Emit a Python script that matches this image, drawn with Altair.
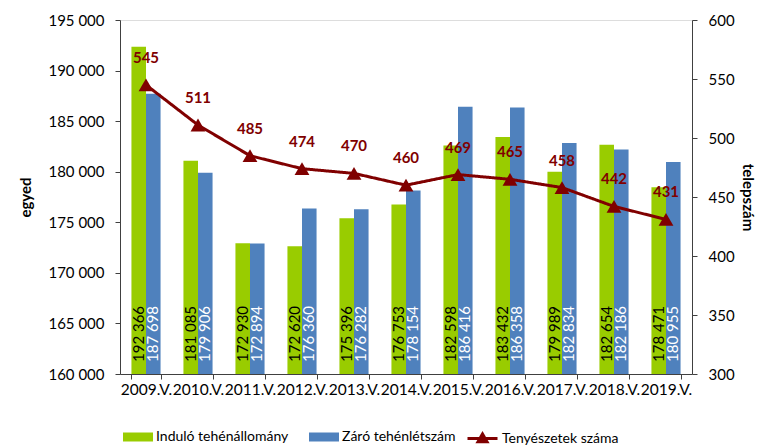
import altair as alt
import pandas as pd

years = ["2009.V.", "2010.V.", "2011.V.", "2012.V.", "2013.V.", "2014.V.",
         "2015.V.", "2016.V.", "2017.V.", "2018.V.", "2019.V."]
series_names = ["Induló tehénállomány", "Záró tehénlétszám"]
indulo = [192366, 181085, 172930, 172620, 175396, 176753, 182598, 183432, 179989, 182654, 178471]
zaro = [187698, 179906, 172894, 176360, 176282, 178154, 186416, 186358, 182834, 182186, 180955]
tenyeszetek = [545, 511, 485, 474, 470, 460, 469, 465, 458, 442, 431]
line_name = "Tenyészetek száma"

FONT = "Lato"
RED = "#800000"
GREEN = "#99CC00"
BLUE = "#4F81BD"
AXIS_COLOR = "#404040"

rows = []
for i, y in enumerate(years):
    for s, vals in zip(series_names, [indulo, zaro]):
        v = vals[i]
        rows.append({"year": y, "series": s, "value": v,
                     "label": f"{v:,}".replace(",", " "), "base": 160000})
bars_df = pd.DataFrame(rows)
line_df = pd.DataFrame({"year": years, "count": tenyeszetek, "lname": line_name})

x_enc = alt.X("year:N", sort=years, title=None,
              scale=alt.Scale(paddingInner=0.44, paddingOuter=0.22),
              axis=alt.Axis(tickBand="extent", labelAngle=0, labelFont=FONT,
                            labelFontSize=15.5, labelColor="black", labelPadding=3,
                            tickSize=5, domainColor=AXIS_COLOR, tickColor=AXIS_COLOR,
                            labelOverlap=False, labelFlush=False))
xoff = alt.XOffset("series:N", sort=series_names, scale=alt.Scale(paddingInner=0))

left_scale = alt.Scale(domain=[160000, 195000], zero=False)
left_axis = alt.Axis(orient="left", values=list(range(160000, 195001, 5000)),
                     grid=False, tickSize=5, labelPadding=11, labelFont=FONT,
                     labelFontSize=15, labelColor="black",
                     labelExpr="replace(datum.label, ',', ' ')",
                     title="egyed", titleFont=FONT, titleFontSize=15,
                     titleFontWeight="bold", titleColor="black", titlePadding=14,
                     domainColor=AXIS_COLOR, tickColor=AXIS_COLOR)

bars = alt.Chart(bars_df).mark_bar(clip=True).encode(
    x=x_enc,
    xOffset=xoff,
    y=alt.Y("value:Q", scale=left_scale, axis=left_axis),
    y2=alt.Y2("base:Q"),
    color=alt.Color("series:N", sort=series_names,
                    scale=alt.Scale(domain=series_names, range=[GREEN, BLUE]),
                    legend=alt.Legend(orient="none", legendX=3, legendY=402,
                                      direction="horizontal", title=None,
                                      symbolType="M-1,-0.3H1V0.3H-1Z", symbolSize=900,
                                      symbolStrokeWidth=0, symbolOpacity=1,
                                      labelFont=FONT, labelFontSize=14,
                                      labelColor="black", labelOffset=3,
                                      columnPadding=20, padding=0)),
)

bar_text = alt.Chart(bars_df).mark_text(
    angle=270, align="left", baseline="middle", dx=12, font=FONT, fontSize=15
).encode(
    x=x_enc,
    xOffset=xoff,
    y=alt.Y("base:Q", scale=left_scale, axis=left_axis),
    text="label:N",
    color=alt.condition(alt.datum.series == series_names[1],
                        alt.value("white"), alt.value("black")),
)

left = alt.layer(bars, bar_text)

right_scale = alt.Scale(domain=[300, 600], zero=False)
right_axis = alt.Axis(orient="right", values=list(range(300, 601, 50)), grid=False,
                      tickSize=5, labelPadding=11, labelFont=FONT, labelFontSize=15,
                      labelColor="black", title="telepszám", titleFont=FONT,
                      titleFontSize=15, titleFontWeight="bold", titleColor="black",
                      titlePadding=5, domainColor=AXIS_COLOR, tickColor=AXIS_COLOR)

line = alt.Chart(line_df).mark_line(color=RED, strokeWidth=3).encode(
    x=x_enc,
    y=alt.Y("count:Q", scale=right_scale, axis=right_axis),
    strokeDash=alt.StrokeDash("lname:N",
                              scale=alt.Scale(domain=[line_name], range=[[1, 0]]),
                              legend=alt.Legend(orient="none", legendX=346, legendY=402,
                                                title=None,
                                                symbolType="M-1,0H1M-0.3,0.22L0,-0.3L0.3,0.22Z",
                                                symbolSize=900, symbolStrokeColor=RED,
                                                symbolFillColor=RED, symbolStrokeWidth=3,
                                                labelFont=FONT, labelFontSize=14,
                                                labelColor="black", labelOffset=3,
                                                padding=0)),
)
points = alt.Chart(line_df).mark_point(shape="triangle-up", filled=True, color=RED,
                                       size=220, opacity=1).encode(
    x=x_enc,
    y=alt.Y("count:Q", scale=right_scale, axis=right_axis),
)
line_text = alt.Chart(line_df).mark_text(
    dy=-27, font=FONT, fontSize=15, fontWeight="bold", color=RED
).encode(
    x=x_enc,
    y=alt.Y("count:Q", scale=right_scale, axis=right_axis),
    text="count:Q",
)
right = alt.layer(line, points, line_text)

chart = alt.layer(left, right).resolve_scale(y="independent").properties(
    width=572, height=354,
    autosize=alt.AutoSizeParams(type="none"),
    padding={"left": 120, "top": 20, "right": 65, "bottom": 73},
).configure_view(stroke=None).configure(background="white")

chart.save("out.html", embed_options={"renderer": "svg", "actions": False})
